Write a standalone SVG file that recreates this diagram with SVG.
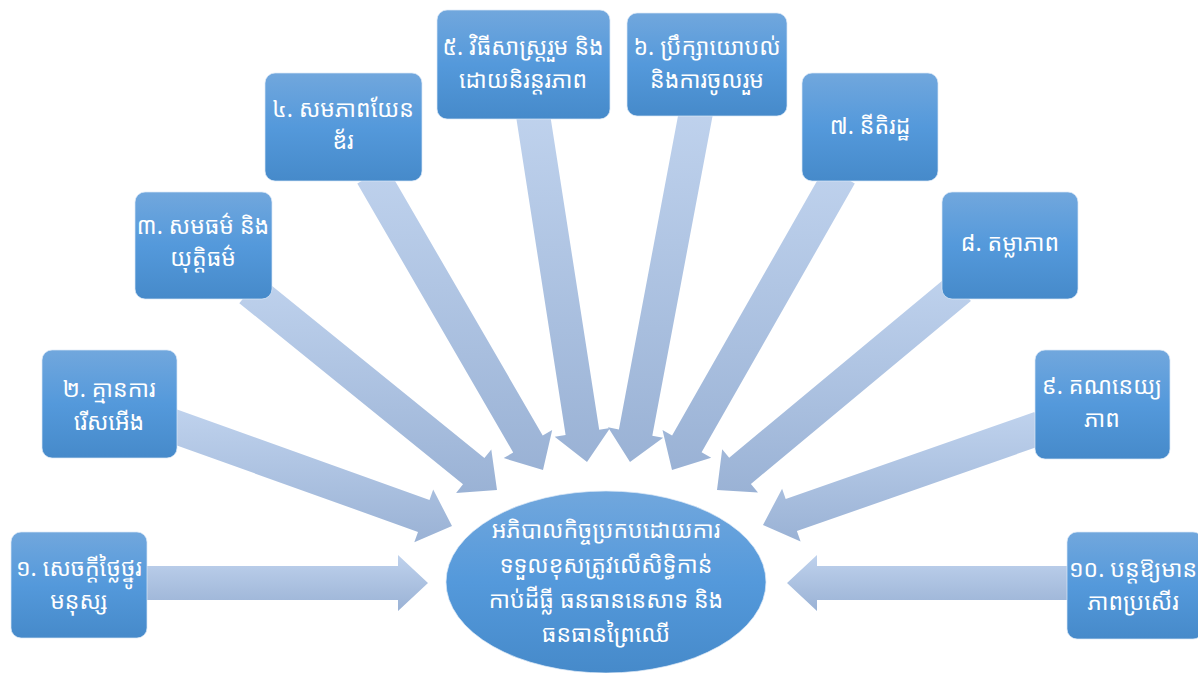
<svg xmlns="http://www.w3.org/2000/svg" width="1198" height="673" viewBox="0 0 1198 673">
<defs>
<linearGradient id="gArrow" x1="0" y1="0" x2="0" y2="1">
<stop offset="0" stop-color="#BFD2ED"/>
<stop offset="1" stop-color="#9AB2D5"/>
</linearGradient>
<linearGradient id="gBox" x1="0" y1="0" x2="0" y2="1">
<stop offset="0" stop-color="#71A7DD"/>
<stop offset="0.5" stop-color="#5499DB"/>
<stop offset="1" stop-color="#468ACA"/>
</linearGradient>
<style>
.arrow{fill:url(#gArrow);}
.box{fill:url(#gBox);stroke:#DCE8F6;stroke-opacity:0.7;stroke-width:1;}
.lbl{fill:#FFFFFF;font-family:"Noto Sans Khmer","Khmer OS","Noto Sans","DejaVu Sans",sans-serif;font-size:23px;text-anchor:middle;}
</style>
</defs>
<rect width="1198" height="673" fill="#FFFFFF"/>
<g id="connectors">
<polygon class="arrow" points="140,566 398,566 398,555 428,583 398,611 398,600 140,600"/>
<polygon class="arrow" points="175.7,409 429.5,499.9 433.2,489.5 452,526 414.3,542.2 418,531.9 164.3,441"/>
<polygon class="arrow" points="260.7,276.8 484.4,457.9 491.3,449.4 497,490 456.1,492.9 463,484.3 239.3,303.2"/>
<polygon class="arrow" points="386.7,166.5 542.7,435.5 552.2,430 543,470 503.7,458.1 513.2,452.6 357.3,183.5"/>
<polygon class="arrow" points="549.8,112.4 599.2,429.8 610.1,428.1 587,462 554.7,436.7 565.6,435 516.2,117.6"/>
<polygon class="arrow" points="679.3,108.9 618.9,429.4 608,427.3 630,462 663.1,437.7 652.3,435.7 712.7,115.2"/>
<polygon class="arrow" points="825.2,166.6 672.1,435.5 662.5,430.1 672,470 711.2,457.8 701.6,452.3 854.8,183.4"/>
<polygon class="arrow" points="949.1,274.9 729.2,457.8 722.2,449.3 717,490 758,492.4 750.9,483.9 970.9,301.1"/>
<polygon class="arrow" points="1034.4,412 785.7,499 782.1,488.7 763,525 800.6,541.5 796.9,531.1 1045.6,444"/>
<polygon class="arrow" points="1075,566 817,566 817,555 787,583 817,611 817,600 1075,600"/>
</g>
<g id="center">
<ellipse class="box" cx="606" cy="582" rx="160" ry="91"/>
<text class="lbl" x="606" y="538">អភិបាលកិច្ចប្រកបដោយការ</text>
<text class="lbl" x="606" y="573">ទទួលខុសត្រូវលើសិទ្ធិកាន់</text>
<text class="lbl" x="606" y="608">កាប់ដីធ្លី ធនធាននេសាទ និង</text>
<text class="lbl" x="606" y="642">ធនធានព្រៃឈើ</text>
</g>
<g id="n1">
<rect class="box" x="11" y="532" width="136" height="106" rx="10"/>
<text class="lbl" x="79" y="576">១. សេចក្ដីថ្លៃថ្នូរ</text>
<text class="lbl" x="79" y="609">មនុស្ស</text>
</g>
<g id="n2">
<rect class="box" x="42" y="350" width="135" height="108" rx="10"/>
<text class="lbl" x="109" y="397">២. គ្មានការ</text>
<text class="lbl" x="109" y="430">រើសអើង</text>
</g>
<g id="n3">
<rect class="box" x="135" y="192" width="137" height="107" rx="10"/>
<text class="lbl" x="203" y="234">៣. សមធម៌ និង</text>
<text class="lbl" x="203" y="266">យុត្តិធម៌</text>
</g>
<g id="n4">
<rect class="box" x="265" y="73" width="157" height="108" rx="10"/>
<text class="lbl" x="343" y="117">៤. សមភាពយែន</text>
<text class="lbl" x="343" y="149">ឌ័រ</text>
</g>
<g id="n5">
<rect class="box" x="437" y="10" width="173" height="109" rx="10"/>
<text class="lbl" x="523" y="55">៥. វិធីសាស្ត្ររួម និង</text>
<text class="lbl" x="523" y="88">ដោយនិរន្តរភាព</text>
</g>
<g id="n6">
<rect class="box" x="627" y="13" width="160" height="103" rx="10"/>
<text class="lbl" x="707" y="55">៦. ប្រឹក្សាយោបល់</text>
<text class="lbl" x="707" y="88">និងការចូលរួម</text>
</g>
<g id="n7">
<rect class="box" x="802" y="73" width="136" height="108" rx="10"/>
<text class="lbl" x="870" y="134">៧. នីតិរដ្ឋ</text>
</g>
<g id="n8">
<rect class="box" x="942" y="192" width="136" height="107" rx="10"/>
<text class="lbl" x="1010" y="251">៨. តម្លាភាព</text>
</g>
<g id="n9">
<rect class="box" x="1035" y="350" width="135" height="109" rx="10"/>
<text class="lbl" x="1102" y="394">៩. គណនេយ្យ</text>
<text class="lbl" x="1102" y="427">ភាព</text>
</g>
<g id="n10">
<rect class="box" x="1067" y="532" width="136" height="107" rx="10"/>
<text class="lbl" x="1133" y="577">១០. បន្តឱ្យមាន</text>
<text class="lbl" x="1133" y="610">ភាពប្រសើរ</text>
</g>
</svg>
